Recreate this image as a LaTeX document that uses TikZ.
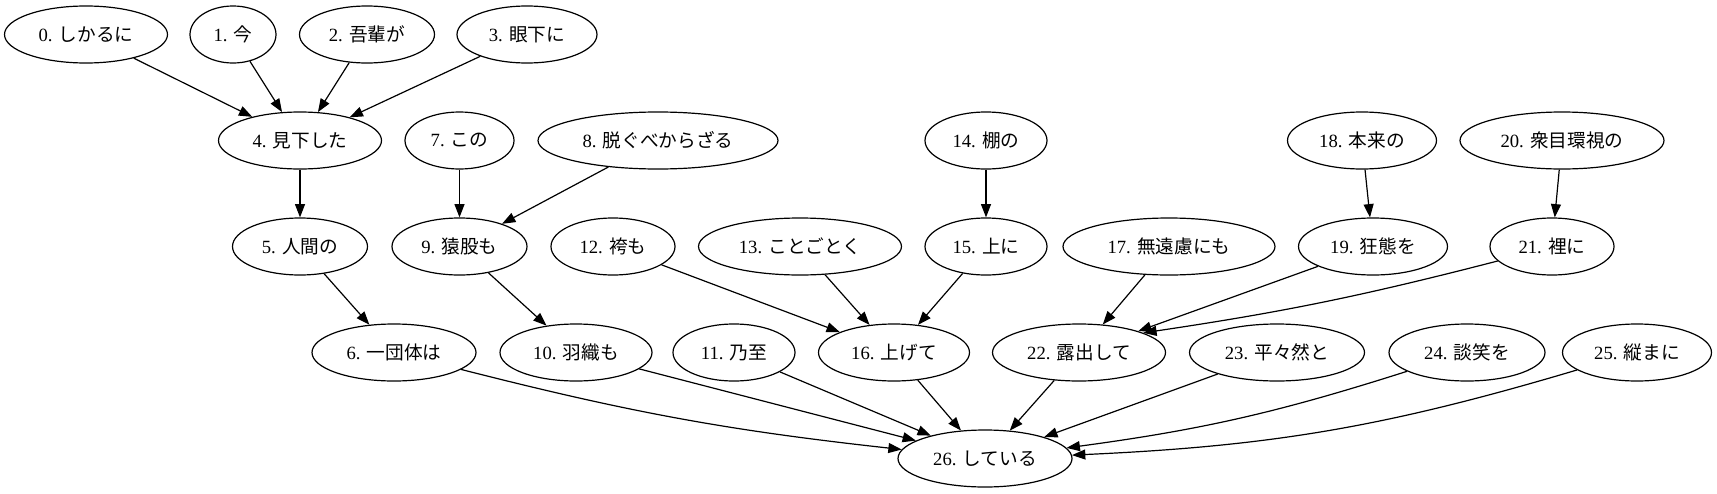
\documentclass[tikz,border=0pt]{standalone}
\usepackage{fontspec}
\setmainfont{Liberation Serif}
\newfontfamily\jp{Noto Sans CJK JP}
\usepackage{tikz}
\usetikzlibrary{shapes,arrows.meta}

\tikzset{word/.style={draw, ellipse, line width=0.9pt, inner sep=0pt, minimum height=42.75pt, minimum width=#1*0.75pt, font=\fontsize{14}{16}\selectfont},
dep/.style={-{Triangle[length=10pt,width=7.5pt]}, line width=0.9pt}}

\begin{document}
\begin{tikzpicture}[x=0.75pt,y=-0.75pt]
\useasboundingbox (0,0) rectangle (1717,493);
\node[word=163] (w0) at (86,34.5) {0. {\jp しかるに}};
\node[word=86] (w1) at (233,34.5) {1. {\jp 今}};
\node[word=135] (w2) at (367,34.5) {2. {\jp 吾輩が}};
\node[word=140] (w3) at (527,34.5) {3. {\jp 眼下に}};
\node[word=163] (w4) at (300,140.5) {4. {\jp 見下した}};
\node[word=109] (w7) at (459.5,140.5) {7. {\jp この}};
\node[word=240] (w8) at (658,140.5) {8. {\jp 脱ぐべからざる}};
\node[word=122] (w14) at (986,140.5) {14. {\jp 棚の}};
\node[word=149] (w18) at (1362,140.5) {18. {\jp 本来の}};
\node[word=204] (w20) at (1562,140.5) {20. {\jp 衆目環視の}};
\node[word=135] (w5) at (300,246.5) {5. {\jp 人間の}};
\node[word=135] (w9) at (459.5,246.5) {9. {\jp 猿股も}};
\node[word=124] (w12) at (613,246.5) {12. {\jp 袴も}};
\node[word=203] (w13) at (800,246.5) {13. {\jp ことごとく}};
\node[word=122] (w15) at (986,246.5) {15. {\jp 上に}};
\node[word=212] (w17) at (1169,246.5) {17. {\jp 無遠慮にも}};
\node[word=149] (w19) at (1373,246.5) {19. {\jp 狂態を}};
\node[word=124] (w21) at (1552,246.5) {21. {\jp 裡に}};
\node[word=164] (w6) at (394,352.5) {6. {\jp 一団体は}};
\node[word=152] (w10) at (576,352.5) {10. {\jp 羽織も}};
\node[word=122] (w11) at (734,352.5) {11. {\jp 乃至}};
\node[word=151] (w16) at (894,352.5) {16. {\jp 上げて}};
\node[word=173] (w22) at (1079,352.5) {22. {\jp 露出して}};
\node[word=175] (w23) at (1277,352.5) {23. {\jp 平々然と}};
\node[word=156] (w24) at (1467,352.5) {24. {\jp 談笑を}};
\node[word=149] (w25) at (1637,352.5) {25. {\jp 縦まに}};
\node[word=174] (w26) at (985,458.5) {26. {\jp している}};
\draw[dep] (w0) -- (w4);
\draw[dep] (w1) -- (w4);
\draw[dep] (w2) -- (w4);
\draw[dep] (w3) -- (w4);
\draw[dep] (w4) -- (w5);
\draw[dep] (w5) -- (w6);
\draw[dep] (w7) -- (w9);
\draw[dep] (w8) -- (w9);
\draw[dep] (w9) -- (w10);
\draw[dep] (w12) -- (w16);
\draw[dep] (w13) -- (w16);
\draw[dep] (w14) -- (w15);
\draw[dep] (w15) -- (w16);
\draw[dep] (w17) -- (w22);
\draw[dep] (w18) -- (w19);
\draw[dep] (w19) -- (w22);
\draw[dep] (w20) -- (w21);
\draw[dep] (w21) to[bend left=3] (w22.17);
\draw[dep] (w6) to[bend right=4] (w26);
\draw[dep] (w10) -- (w26);
\draw[dep] (w11) -- (w26);
\draw[dep] (w16) -- (w26);
\draw[dep] (w22) -- (w26);
\draw[dep] (w23) -- (w26);
\draw[dep] (w24) to[bend left=5] (w26);
\draw[dep] (w25) to[bend left=7] (w26);
\end{tikzpicture}
\end{document}
